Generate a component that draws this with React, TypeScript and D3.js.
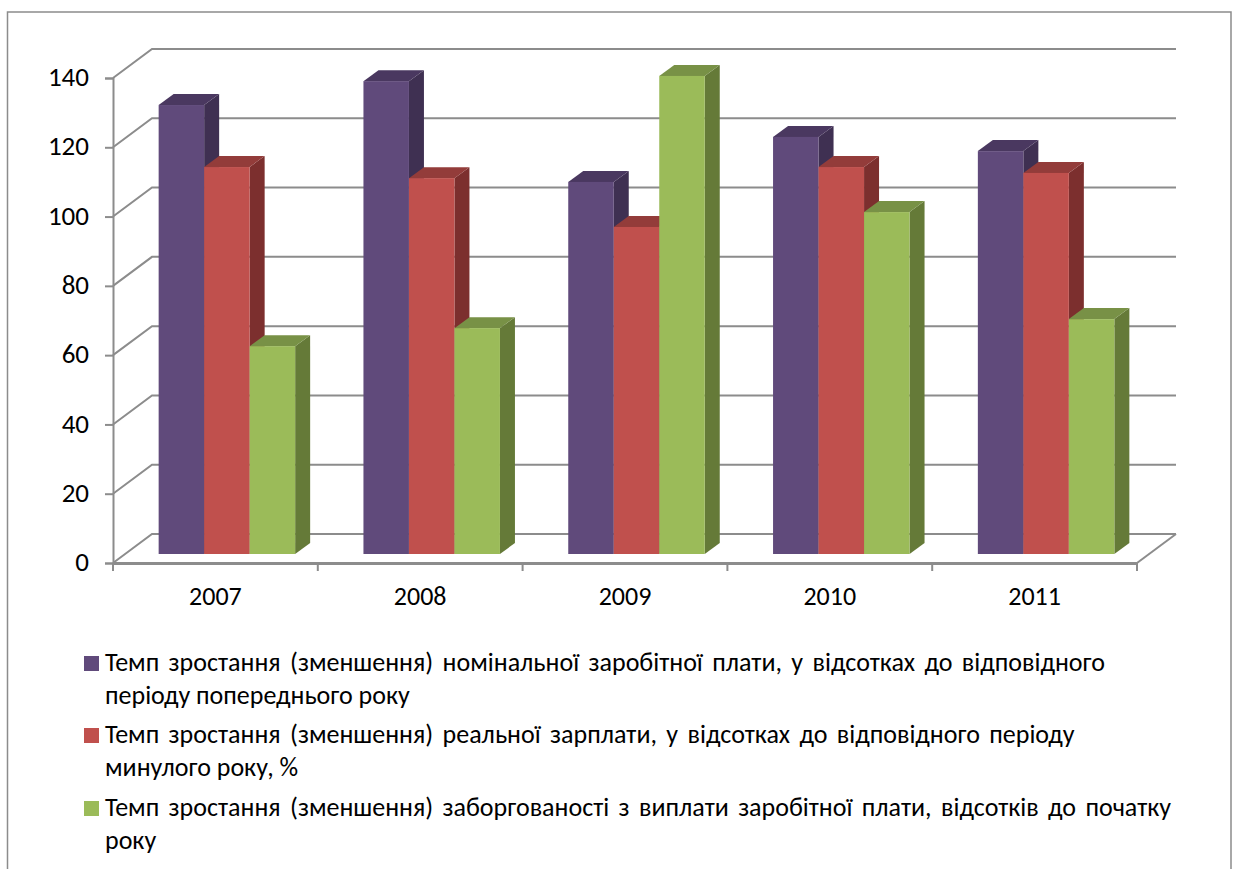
import * as d3 from "d3";
import React, { useEffect, useRef } from "react";

const years = ["2007", "2008", "2009", "2010", "2011"];
const nominal = [129.6, 136.5, 107.4, 120.4, 116.3];
const real = [111.7, 108.5, 94.4, 111.7, 110];
const arrears = [60, 65.2, 138, 98.7, 67.8];
const yTicks = [0, 20, 40, 60, 80, 100, 120, 140];

const seriesColors = [
  { front: "#604a7b", top: "#4a3860", side: "#3f3052" },
  { front: "#c0504d", top: "#933c3a", side: "#7c2f2e" },
  { front: "#9bbb59", top: "#789146", side: "#657a38" },
];

const legendLines = [
  ["Темп зростання (зменшення) номінальної заробітної плати, у відсотках до відповідного", "періоду попереднього року"],
  ["Темп зростання (зменшення) реальної зарплати, у відсотках до відповідного періоду", "минулого року, %"],
  ["Темп зростання (зменшення) заборгованості з виплати заробітної плати, відсотків до початку", "року"],
];

const FONT = "Carlito, Calibri, 'Open Sans', sans-serif";
const GRID = "#8c8c8c";

const App = () => {
  const svgRef = useRef<SVGSVGElement>(null);

  useEffect(() => {
    const svg = d3.select(svgRef.current);
    svg.selectAll("*").remove();

    const left = 113;
    const right = 1137;
    const depthX = 39;
    const depthY = 29;

    const y = d3.scaleLinear().domain([0, 140]).range([563, 78]);
    const x = d3.scaleBand().domain(years).range([left, right]);
    const inner = d3.scaleBand().domain(["0", "1", "2"]).range([0, 136.5]);

    // frame
    svg
      .append("path")
      .attr("d", "M7.5,869V12H1231V869")
      .attr("fill", "none")
      .attr("stroke", GRID)
      .attr("stroke-width", 1.5);

    // back wall gridlines + slanted left wall
    yTicks.forEach((t) => {
      svg
        .append("path")
        .attr("d", `M${left},${y(t)}L${left + depthX},${y(t) - depthY}H${right + depthX}`)
        .attr("fill", "none")
        .attr("stroke", GRID)
        .attr("stroke-width", 2);
    });
    // floor right edge
    svg
      .append("line")
      .attr("x1", right)
      .attr("y1", y(0))
      .attr("x2", right + depthX)
      .attr("y2", y(0) - depthY)
      .attr("stroke", GRID)
      .attr("stroke-width", 2);

    const yAxis = svg
      .append("g")
      .attr("transform", `translate(${left},0)`)
      .call(d3.axisLeft(y).tickValues(yTicks).tickSize(8).tickPadding(16));
    yAxis.selectAll("path,line").attr("stroke", GRID).attr("stroke-width", 2);
    yAxis
      .selectAll("text")
      .attr("font-family", FONT)
      .attr("font-size", 27)
      .attr("y", -1)
      .attr("fill", "#000");

    const xAxis = svg
      .append("g")
      .attr("transform", `translate(0,${y(0)})`)
      .call(d3.axisBottom(x).tickSize(0).tickPadding(24));
    xAxis.select("path").attr("stroke", GRID).attr("stroke-width", 3);
    xAxis
      .selectAll("text")
      .attr("font-family", FONT)
      .attr("font-size", 26)
      .attr("fill", "#000");

    // band boundary ticks
    [...years.map((d) => x(d) as number), right].forEach((tx) => {
      svg
        .append("line")
        .attr("x1", tx)
        .attr("x2", tx)
        .attr("y1", y(0))
        .attr("y2", y(0) + 8)
        .attr("stroke", GRID)
        .attr("stroke-width", 2);
    });

    // bars
    const shiftX = 11.5;
    const shiftY = 9;
    const barDx = 15;
    const barDy = 11;
    const bw = inner.bandwidth();
    years.forEach((year, i) => {
      const groupX = (x(year) as number) + (x.bandwidth() - 136.5) / 2 + shiftX;
      [nominal[i], real[i], arrears[i]].forEach((value, s) => {
        const bx = groupX + (inner(String(s)) as number);
        const top = y(value) - shiftY;
        const base = y(0) - shiftY;
        const c = seriesColors[s];
        const g = svg.append("g");
        g.append("path")
          .attr("d", `M${bx + bw},${top}l${barDx},${-barDy}V${base - barDy}L${bx + bw},${base}Z`)
          .attr("fill", c.side);
        g.append("path")
          .attr("d", `M${bx},${top}l${barDx},${-barDy}h${bw}l${-barDx},${barDy}Z`)
          .attr("fill", c.top);
        g.append("rect")
          .attr("x", bx)
          .attr("y", top)
          .attr("width", bw)
          .attr("height", base - top)
          .attr("fill", c.front);
      });
    });

    // legend
    const legendY = [671, 743, 816];
    legendLines.forEach((lines, i) => {
      svg
        .append("rect")
        .attr("x", 84)
        .attr("y", legendY[i] - 15)
        .attr("width", 15)
        .attr("height", 15)
        .attr("fill", seriesColors[i].front);
      lines.forEach((line, j) => {
        svg
          .append("text")
          .attr("x", 105)
          .attr("y", legendY[i] + j * 32.5)
          .attr("font-family", FONT)
          .attr("font-size", 26)
          .attr("word-spacing", j === 0 ? 3.5 : 0)
          .attr("fill", "#000")
          .text(line);
      });
    });
  }, []);

  return (
    <svg
      ref={svgRef}
      width={1233}
      height={869}
      style={{ position: "absolute", left: 0, top: 0, background: "#fff" }}
    />
  );
};

export default App;
